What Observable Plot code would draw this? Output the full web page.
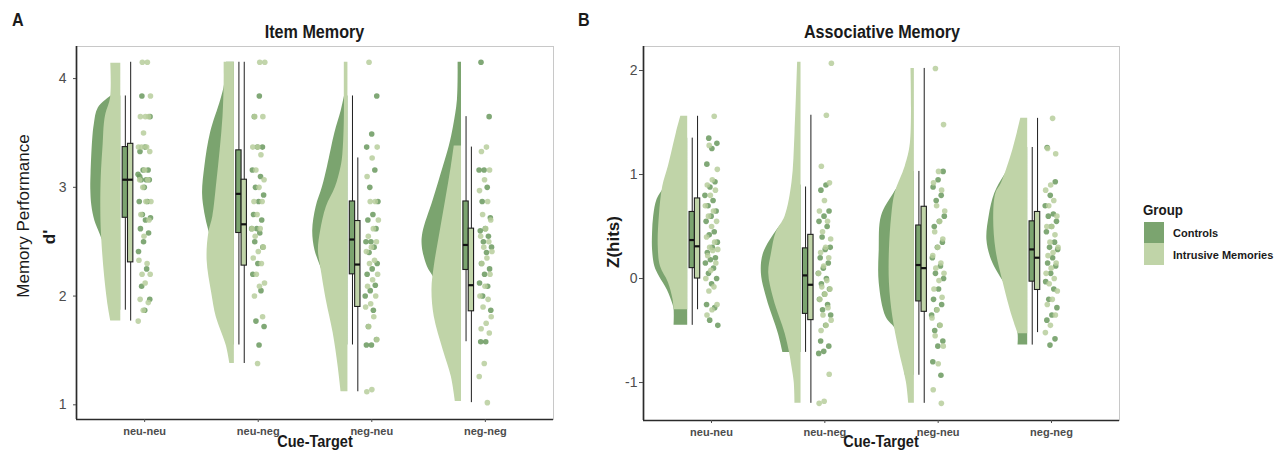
<!DOCTYPE html>
<html><head><meta charset="utf-8">
<script src="https://cdn.jsdelivr.net/npm/d3@7"></script>
<script src="https://cdn.jsdelivr.net/npm/@observablehq/plot@0.6"></script>
<style>
html,body{margin:0;padding:0;background:#fff}
#root{position:relative;width:1277px;height:452px;overflow:hidden;background:#fff;font-family:"Liberation Sans",Arial,sans-serif}
</style></head><body><div id="root"></div>
<script>
// ---------------- data ----------------
const categories = ["neu-neu", "neu-neg", "neg-neu", "neg-neg"];
const groups = ["Controls", "Intrusive Memories"];
const itemTicks = [1, 2, 3, 4];
const assocTicks = [-1, 0, 1, 2];

// Item memory (d'), individual participants per cue-target condition
const itemControls = [
  [3.84,3.65,3.37,3.33,3.16,3.16,3.12,3.07,3.07,3.07,3.0,2.87,2.87,2.75,2.72,2.7,2.62,2.58,2.5,2.41,2.25,2.09,1.97,1.87,3.1],
  [3.84,3.65,3.37,3.37,3.16,3.1,3.0,2.93,2.87,2.75,2.7,2.62,2.62,2.58,2.5,2.45,2.3,2.2,2.05,1.77,1.72,1.55],
  [3.84,3.49,3.37,3.16,3.0,2.87,2.75,2.7,2.62,2.5,2.5,2.45,2.4,2.3,2.25,2.2,2.1,2.05,2.0,1.87,1.72,1.6,1.55,1.55],
  [4.15,3.65,3.16,3.16,3.0,2.87,2.72,2.62,2.6,2.55,2.5,2.45,2.4,2.3,2.25,2.2,2.12,2.09,2.0,1.87,1.58,1.58]
];
const itemIntrusive = [
  [4.15,4.15,3.84,3.65,3.65,3.65,3.5,3.37,3.37,3.37,3.33,3.16,3.07,3.07,3.0,2.87,2.87,2.75,2.7,2.55,2.33,2.3,2.2,2.2,2.12,1.97,1.94,1.87,1.77],
  [4.15,4.15,3.65,3.65,3.37,3.37,3.3,3.16,3.07,3.0,2.87,2.87,2.75,2.62,2.62,2.55,2.45,2.41,2.35,2.3,2.2,2.12,2.09,2.0,1.81,1.38],
  [4.15,3.37,3.27,3.1,2.87,2.87,2.7,2.62,2.55,2.5,2.45,2.41,2.33,2.3,2.2,2.15,2.09,2.0,1.93,1.9,1.81,1.72,1.6,1.14,1.12],
  [3.37,3.33,3.16,3.07,2.97,2.87,2.75,2.7,2.62,2.55,2.5,2.45,2.41,2.35,2.3,2.2,2.09,2.0,1.97,1.9,1.81,1.75,1.7,1.66,1.38,1.26,1.02]
];
// Associative memory, Z(hits)
const assocControls = [
  [1.35,1.3,1.25,1.1,0.93,0.88,0.8,0.75,0.7,0.65,0.6,0.55,0.45,0.42,0.35,0.3,0.25,0.2,0.18,0.15,0.1,0.05,0.0,-0.05,-0.25,-0.28,-0.4,-0.45],
  [0.9,0.85,0.65,0.6,0.55,0.5,0.4,0.3,0.28,0.2,0.15,0.1,0.05,0.0,-0.05,-0.1,-0.15,-0.2,-0.25,-0.3,-0.35,-0.45,-0.6,-0.65,-0.7,-0.72],
  [1.03,0.95,0.88,0.8,0.75,0.6,0.55,0.5,0.35,0.3,0.2,0.12,0.05,0.0,-0.1,-0.2,-0.25,-0.3,-0.35,-0.45,-0.5,-0.6,-0.65,-0.8,-0.93],
  [1.26,0.93,0.8,0.7,0.62,0.6,0.55,0.5,0.45,0.35,0.3,0.28,0.2,0.15,0.12,0.05,-0.03,-0.1,-0.2,-0.28,-0.35,-0.4,-0.58,-0.64]
];
const assocIntrusive = [
  [1.56,1.28,1.05,0.95,0.9,0.85,0.8,0.7,0.65,0.6,0.55,0.5,0.4,0.35,0.3,0.28,0.27,0.22,0.15,0.08,0.0,-0.08,-0.12,-0.25,-0.3,-0.35],
  [2.07,1.57,1.08,0.92,0.75,0.65,0.55,0.45,0.38,0.3,0.25,0.2,0.12,0.05,-0.02,-0.08,-0.1,-0.15,-0.2,-0.28,-0.35,-0.4,-0.45,-0.5,-0.92,-1.18,-1.2],
  [2.02,1.48,1.03,0.92,0.85,0.7,0.65,0.55,0.45,0.38,0.3,0.22,0.15,0.1,0.05,-0.02,-0.1,-0.18,-0.3,-0.38,-0.45,-0.55,-0.65,-0.82,-1.07,-1.2],
  [1.54,1.25,1.2,0.9,0.85,0.75,0.7,0.6,0.5,0.5,0.42,0.35,0.3,0.25,0.22,0.15,0.1,0.05,0.0,-0.05,-0.12,-0.2,-0.25,-0.35,-0.45,-0.52]
];

// Box statistics per condition: [lower whisker, Q1, median, Q3, upper whisker]
const itemBoxControls = [[1.87,2.72,3.07,3.37,3.84],[1.55,2.58,2.94,3.34,4.15],[1.55,2.2,2.52,2.87,3.84],[1.58,2.24,2.47,2.87,3.65]];
const itemBoxIntrusive = [[1.77,2.31,3.07,3.4,4.15],[1.38,2.28,2.66,3.07,4.15],[1.12,1.9,2.29,2.69,3.27],[1.02,1.86,2.1,2.62,3.37]];
const assocBoxControls = [[-0.45,0.1,0.37,0.64,1.35],[-0.71,-0.34,0.03,0.29,0.88],[-0.93,-0.22,0.13,0.51,1.03],[-0.64,-0.03,0.28,0.55,1.26]];
const assocBoxIntrusive = [[-0.3,0.0,0.31,0.77,1.56],[-1.2,-0.4,-0.06,0.42,1.57],[-1.2,-0.32,0.1,0.69,2.02],[-0.52,-0.11,0.2,0.64,1.54]];

// Half-violin density profiles per condition: [value, density width]
const itemViolinControls = [
  [[3.84,0.085],[3.73,0.198],[3.58,0.233],[3.43,0.248],[3.12,0.262],[2.98,0.264],[2.83,0.255],[2.69,0.228],[2.57,0.183],[2.45,0.14],[2.2,0.1],[1.87,0.07]],
  [[4.15,0.07],[3.95,0.085],[3.8,0.12],[3.5,0.21],[3.19,0.26],[2.94,0.28],[2.76,0.26],[2.6,0.225],[2.45,0.18],[2.0,0.12],[1.55,0.05]],
  [[3.84,0.03],[3.7,0.06],[3.5,0.115],[3.19,0.18],[3.0,0.225],[2.82,0.28],[2.6,0.31],[2.42,0.29],[2.27,0.24],[2.1,0.18],[1.8,0.1],[1.55,0.05]],
  [[4.15,0.03],[3.8,0.036],[3.56,0.07],[3.38,0.107],[3.19,0.16],[2.88,0.25],[2.58,0.34],[2.45,0.345],[2.27,0.3],[2.18,0.25],[2.0,0.18],[1.58,0.08]]
];
const itemViolinIntrusive = [
  [[4.14,0.088],[3.82,0.09],[3.68,0.13],[3.58,0.145],[3.4,0.155],[3.1,0.172],[2.8,0.176],[2.57,0.17],[2.21,0.145],[1.9,0.11],[1.77,0.088]],
  [[4.15,0.09],[3.95,0.09],[3.65,0.1],[3.34,0.125],[3.04,0.155],[2.73,0.19],[2.58,0.225],[2.33,0.24],[2.03,0.2],[1.81,0.16],[1.66,0.11],[1.54,0.07],[1.38,0.04]],
  [[4.15,0.032],[3.6,0.032],[3.3,0.045],[3.19,0.06],[3.0,0.11],[2.82,0.19],[2.6,0.24],[2.42,0.26],[2.27,0.24],[1.96,0.19],[1.66,0.13],[1.35,0.086],[1.12,0.06]],
  [[3.38,0.064],[3.19,0.09],[2.88,0.14],[2.58,0.19],[2.27,0.24],[2.06,0.26],[1.81,0.24],[1.5,0.16],[1.26,0.09],[1.03,0.054]]
];
const assocViolinControls = [
  [[1.35,0.05],[1.1,0.12],[0.87,0.21],[0.76,0.27],[0.6,0.3],[0.44,0.31],[0.275,0.31],[0.115,0.29],[0.02,0.25],[-0.11,0.18],[-0.25,0.13],[-0.3,0.12],[-0.45,0.12]],
  [[0.9,0.05],[0.6,0.12],[0.47,0.21],[0.245,0.33],[0.05,0.35],[-0.2,0.3],[-0.53,0.2],[-0.71,0.16]],
  [[1.03,0.05],[0.82,0.18],[0.6,0.29],[0.275,0.31],[-0.045,0.31],[-0.37,0.25],[-0.5,0.16],[-0.93,0.08]],
  [[1.26,0.05],[1.0,0.2],[0.82,0.29],[0.6,0.34],[0.37,0.36],[0.18,0.32],[0.05,0.26],[-0.1,0.18],[-0.37,0.12],[-0.53,0.085],[-0.64,0.085]]
];
const assocViolinIntrusive = [
  [[1.56,0.061],[1.4,0.1],[1.08,0.17],[0.885,0.22],[0.6,0.25],[0.31,0.26],[0.115,0.24],[-0.04,0.17],[-0.2,0.13],[-0.3,0.12]],
  [[2.08,0.03],[1.4,0.053],[0.92,0.08],[0.6,0.14],[0.44,0.22],[0.245,0.26],[0.05,0.285],[-0.2,0.24],[-0.53,0.14],[-0.72,0.1],[-0.85,0.08],[-1.0,0.06],[-1.2,0.053]],
  [[2.02,0.03],[1.3,0.035],[1.08,0.08],[0.82,0.17],[0.6,0.2],[0.275,0.22],[-0.045,0.22],[-0.37,0.19],[-0.69,0.135],[-1.0,0.07],[-1.2,0.05]],
  [[1.54,0.061],[1.24,0.13],[0.92,0.23],[0.82,0.28],[0.6,0.3],[0.275,0.28],[-0.045,0.215],[-0.37,0.135],[-0.53,0.085]]
];

// ---------------- styling / layout ----------------
const DARK = "#7ba46f", LIGHT = "#c0d4a8";
const DOT_DARK = "#6a995e", DOT_LIGHT = "#b7ce9c";
const EDGE = -0.21, BOXW = 0.047, BOX_OFF = [-0.17, -0.123], JIT = 0.058;
const FONT = '"Liberation Sans", Arial, sans-serif';

function panel(cfg) {
  const [vc, vi] = cfg.violins, [pc, pi] = cfg.points, [bc, bi] = cfg.boxes;
  const vRows = profiles => profiles.flatMap((p, c) => p.map(([y, w]) => ({cat: c + 1, y, w})));
  const pRows = (sets, g) => sets.flatMap((vals, c) => vals.map((y, i) => ({cat: c + 1, y, i, g})));
  const bRows = b => b.map(([lo, q1, med, q3, hi], c) => ({cat: c + 1, lo, q1, med, q3, hi}));
  const jit = d => d.cat + JIT * (2 * ((d.i * 0.6180339887 + d.cat * 0.2923 + d.g * 0.4142) % 1) - 1);
  const boxMarks = (rows, off, fill) => [
    Plot.ruleX(rows, {x: d => d.cat + off, y1: "lo", y2: "hi", stroke: "#1f1f1f", strokeWidth: 1}),
    Plot.rect(rows, {x1: d => d.cat + off - BOXW / 2, x2: d => d.cat + off + BOXW / 2, y1: "q1", y2: "q3", fill, stroke: "#1f1f1f", strokeWidth: 1.1}),
    Plot.ruleY(rows, {y: "med", x1: d => d.cat + off - BOXW / 2, x2: d => d.cat + off + BOXW / 2, stroke: "#111", strokeWidth: 2.2})
  ];
  return Plot.plot({
    width: cfg.width, height: 452,
    marginLeft: cfg.marginLeft, marginRight: cfg.marginRight, marginTop: 46, marginBottom: cfg.marginBottom,
    x: {domain: [0.4, 4.6]},
    y: {domain: cfg.yDomain},
    style: {position: "absolute", left: cfg.left + "px", top: "0px", color: "#4d4d4d", background: "transparent", fontFamily: FONT, overflow: "visible"},
    marks: [
      Plot.frame({stroke: "#c8c8c8", strokeWidth: 1}),
      Plot.areaX(vRows(vc), {y: "y", x1: d => d.cat + EDGE, x2: d => d.cat + EDGE - d.w, z: "cat", fill: DARK, curve: "catmull-rom"}),
      Plot.areaX(vRows(vi), {y: "y", x1: d => d.cat + EDGE, x2: d => d.cat + EDGE - d.w, z: "cat", fill: LIGHT, curve: "catmull-rom"}),
      Plot.dot(pRows(pc, 0), {x: jit, y: "y", r: 2.8, fill: DOT_DARK, fillOpacity: 0.85}),
      Plot.dot(pRows(pi, 1), {x: jit, y: "y", r: 2.8, fill: DOT_LIGHT, fillOpacity: 0.85}),
      ...boxMarks(bRows(bc), BOX_OFF[0], DARK),
      ...boxMarks(bRows(bi), BOX_OFF[1], LIGHT),
      Plot.ruleX([0.4], {stroke: "#2b2b2b", strokeWidth: 1.7}),
      Plot.ruleY([cfg.yDomain[0]], {stroke: "#2b2b2b", strokeWidth: 1.7}),
      Plot.axisY(cfg.yTicks, {tickSize: cfg.tickSizeY, tickPadding: cfg.padY, fontSize: 14, tickFormat: d => String(d), label: null}),
      Plot.axisX([1, 2, 3, 4], {tickFormat: d => categories[d - 1], tickSize: 3, tickPadding: 5, fontSize: 11, fontWeight: "bold", label: null})
    ]
  });
}

const root = document.getElementById("root");
root.appendChild(panel({
  left: 0, width: 560, marginLeft: 76, marginRight: 7, marginBottom: 33,
  yDomain: [0.865, 4.295], yTicks: itemTicks, tickSizeY: 3, padY: 7,
  points: [itemControls, itemIntrusive], boxes: [itemBoxControls, itemBoxIntrusive],
  violins: [itemViolinControls, itemViolinIntrusive]
}));
root.appendChild(panel({
  left: 560, width: 566, marginLeft: 83, marginRight: 7, marginBottom: 32,
  yDomain: [-1.365, 2.231], yTicks: assocTicks, tickSizeY: 4, padY: 2,
  points: [assocControls, assocIntrusive], boxes: [assocBoxControls, assocBoxIntrusive],
  violins: [assocViolinControls, assocViolinIntrusive]
}));

// ---------------- annotation overlay (titles, axis titles, legend) ----------------
const svg = d3.select(root).append("svg")
  .attr("width", 1277).attr("height", 452)
  .style("position", "absolute").style("left", "0px").style("top", "0px")
  .style("font-family", FONT).style("pointer-events", "none");

function txt(s, x, y, {size = 14, weight = "bold", anchor = "middle", sx = 1, rotate = 0, color = "#1a1a1a"} = {}) {
  return svg.append("text").text(s)
    .attr("transform", `translate(${x},${y})` + (rotate ? ` rotate(${rotate})` : "") + (sx !== 1 ? ` scale(${sx},1)` : ""))
    .attr("text-anchor", anchor).attr("font-size", size).attr("font-weight", weight).attr("fill", color);
}
txt("A", 12, 26, {size: 19, anchor: "start", sx: 0.85});
txt("B", 578, 26, {size: 19, anchor: "start", sx: 0.85});
txt("Item Memory", 314.5, 38, {size: 19, sx: 0.85});
txt("Associative Memory", 882, 38, {size: 19, sx: 0.85});
txt("Cue-Target", 315, 447, {size: 16.5, sx: 0.88});
txt("Cue-Target", 881, 447, {size: 16.5, sx: 0.88});
txt("Memory Performance", 29, 216, {size: 17, weight: "normal", rotate: -90});
txt("d'", 55, 237, {size: 17, rotate: -90});
txt("Z(hits)", 619, 242, {size: 17, rotate: -90});

// legend
txt("Group", 1143, 215, {size: 14.5, anchor: "start", sx: 0.92});
svg.append("rect").attr("x", 1144).attr("y", 222).attr("width", 20).attr("height", 21).attr("fill", DARK);
svg.append("rect").attr("x", 1144).attr("y", 243).attr("width", 20).attr("height", 22).attr("fill", LIGHT);
txt(groups[0], 1173, 237, {size: 11, anchor: "start"});
txt(groups[1], 1173, 259, {size: 11, anchor: "start"});
</script></body></html>
